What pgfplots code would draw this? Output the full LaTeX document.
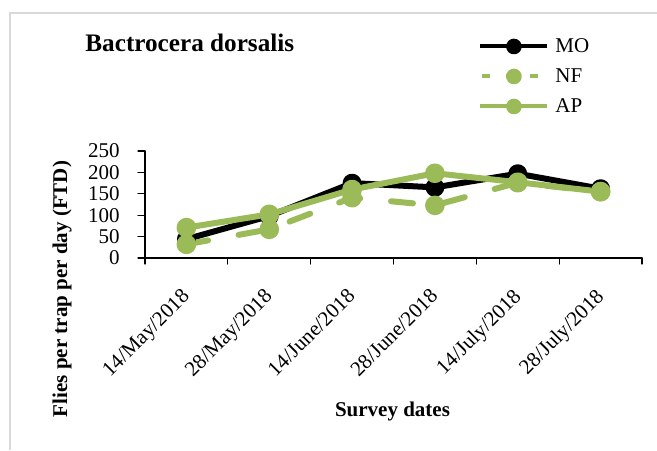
\documentclass[border=0pt]{standalone}
\usepackage{pgfplots}
\pgfplotsset{compat=1.18}
\usepackage{fontspec}
\setmainfont{Liberation Serif}
\definecolor{ogreen}{RGB}{155,187,89}
\definecolor{bordergray}{RGB}{217,217,217}
\begin{document}
\begin{tikzpicture}
\path[use as bounding box] (0pt,0pt) rectangle (328.5pt,225pt);
\draw[bordergray, line width=0.6pt] (5pt,0pt) -- (5pt,218.5pt) -- (330pt,218.5pt);
\begin{axis}[
  at={(72.5pt,96pt)}, anchor=south west,
  scale only axis, width=248.5pt, height=53.5pt,
  xmin=-0.5, xmax=5.5, ymin=0, ymax=250,
  axis lines=left, axis line style={-, line width=0.6pt},
  xtick={0,...,5},
  xticklabels={14/May/2018,28/May/2018,14/June/2018,28/June/2018,14/July/2018,28/July/2018},
  minor xtick={-0.5,0.5,...,5.5},
  major x tick style={draw=none},
  ytick={0,50,...,250},
  tick align=outside, major tick length=3.5pt, minor tick length=3pt,
  tick style={line width=0.6pt, black},
  /pgf/number format/assume math mode=true,
  tick label style={font=\fontsize{10.5}{12}\selectfont},
  yticklabel style={anchor=east, inner sep=0pt, xshift=-9pt},
  xticklabel style={inner sep=0pt, anchor=north east, xshift=-3pt, yshift=-11pt, rotate=45},
  title={\textbf{Bactrocera dorsalis}},
  title style={at={(axis description cs:-0.1207,1.822)}, anchor=base west, font=\fontsize{12.6}{14}\selectfont, inner sep=0pt},
  xlabel={\textbf{Survey dates}},
  ylabel={\textbf{Flies per trap per day (FTD)}},
  every axis x label/.style={at={(axis description cs:0.498,-1.4365)}, anchor=center, font=\fontsize{10.5}{12}\selectfont},
  every axis y label/.style={at={(axis description cs:-0.167,-0.29)}, rotate=90, anchor=center, font=\fontsize{10.5}{12}\selectfont},
  legend style={at={(axis description cs:0.658,2.13)}, anchor=north west, draw=none, fill=none,
    font=\fontsize{10.5}{12}\selectfont, row sep=3pt, column sep=2pt,
    nodes={inner sep=1pt, text height=8pt, text depth=2pt}},
  legend cell align=left,
  legend image code/.code={\draw[line width=2pt, mark size=2.9pt, mark repeat=2,mark phase=2] plot coordinates {(0pt,0pt) (16.75pt,0pt) (33.5pt,0pt)};},
  line cap=round, line join=round,
]
\addplot[black, line width=3pt, mark=*, mark size=3.2pt, mark options={solid, fill=black}]
  coordinates {(0,44) (1,98) (2,175) (3,165) (4,197) (5,162)};
\addlegendentry{MO}
\addplot[ogreen, line width=3pt, dash pattern=on 11pt off 15.5pt, mark=*, mark size=3.4pt, mark options={solid, fill=ogreen},
  legend image code/.code={\draw[line width=2pt, mark size=2.9pt, mark repeat=2,mark phase=2, dash pattern=on 4pt off 8pt, dash phase=-1pt] plot coordinates {(0pt,0pt) (16.75pt,0pt) (33.5pt,0pt)};}]
  coordinates {(0,32) (1,67) (2,141) (3,123) (4,176) (5,155)};
\addlegendentry{NF}
\addplot[ogreen, line width=3pt, mark=*, mark size=3.4pt, mark options={solid, fill=ogreen}]
  coordinates {(0,71) (1,102) (2,160) (3,198) (4,177) (5,155)};
\addlegendentry{AP}
\end{axis}
\end{tikzpicture}
\end{document}
